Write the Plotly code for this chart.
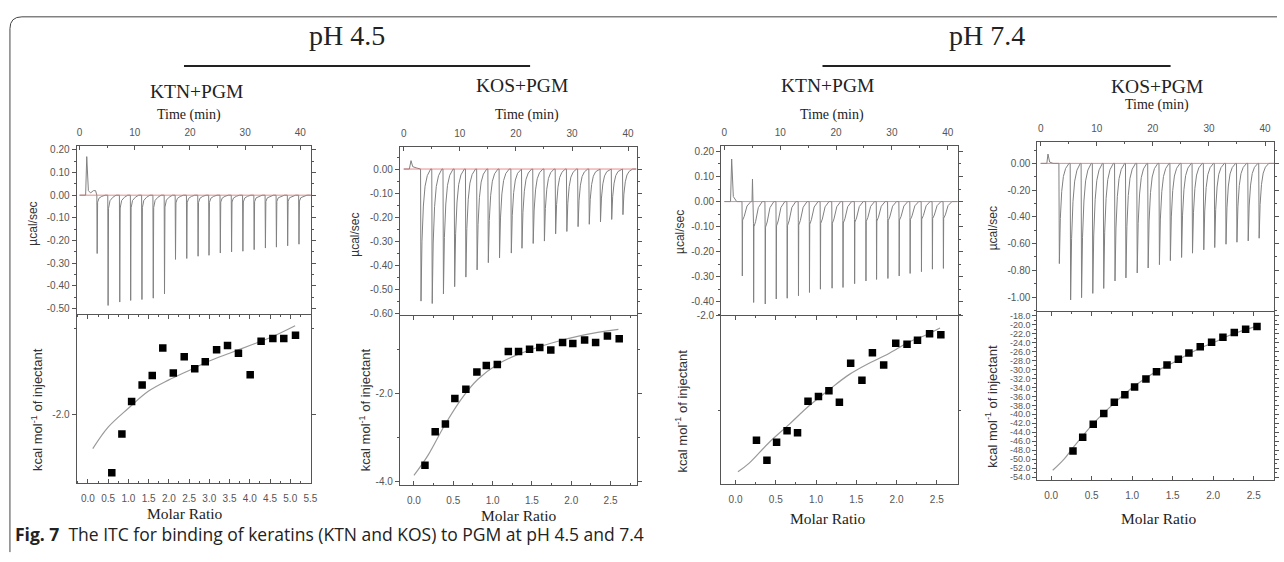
import plotly.graph_objects as go

W, H = 1284, 562

# ======================= DATA =======================
time_ticks = [0, 10, 20, 30, 40]
time_ticktext = ["0", "10", "20", "30", "40"]

# ---- Panel A : pH 4.5, KTN+PGM ----
a_inj_t = [3.13, 5.11, 7.22, 9.20, 11.24, 13.29, 15.33, 17.32, 19.36, 21.41,
           23.39, 25.44, 27.48, 29.53, 31.57, 33.61, 35.60, 37.64, 39.69]
a_inj_d = [-0.257, -0.486, -0.471, -0.464, -0.460, -0.454, -0.435, -0.283, -0.279, -0.269,
           -0.265, -0.255, -0.250, -0.247, -0.240, -0.233, -0.229, -0.223, -0.216]
a_pre_t = [0.0, 1.1, 1.3, 1.6, 2.0, 2.5, 2.9]
a_pre_v = [0.0, 0.0, 0.17, 0.02, 0.01, 0.02, 0.02]
a_end_t = 41.9
a_molar = [0.59, 0.84, 1.08, 1.34, 1.59, 1.85, 2.11, 2.38, 2.64, 2.90,
           3.18, 3.45, 3.72, 4.01, 4.28, 4.57, 4.84, 5.13]
a_heat = [-2.68, -2.23, -1.85, -1.66, -1.55, -1.23, -1.52, -1.33, -1.47, -1.39,
          -1.25, -1.20, -1.29, -1.54, -1.15, -1.12, -1.12, -1.08]
a_fit_x = [0.12, 0.5, 1.0, 1.5, 2.0, 2.5, 3.0, 3.5, 4.0, 4.5, 5.12]
a_fit_y = [-2.40, -2.15, -1.93, -1.73, -1.60, -1.49, -1.38, -1.29, -1.20, -1.11, -0.97]
a_pow_ticks = [0.2, 0.1, 0.0, -0.1, -0.2, -0.3, -0.4, -0.5]
a_pow_text = ["0.20", "0.10", "0.00", "-0.10", "-0.20", "-0.30", "-0.40", "-0.50"]
a_mr_ticks = [0.0, 0.5, 1.0, 1.5, 2.0, 2.5, 3.0, 3.5, 4.0, 4.5, 5.0, 5.5]
a_mr_text = ["0.0", "0.5", "1.0", "1.5", "2.0", "2.5", "3.0", "3.5", "4.0", "4.5", "5.0", "5.5"]
a_heat_ticks = [-2.0]
a_heat_text = ["-2.0"]

# ---- Panel B : pH 4.5, KOS+PGM ----
b_inj_t = [3.0, 5.0, 7.0, 9.0, 11.0, 13.0, 15.0, 17.0, 19.1, 21.0,
           23.0, 25.0, 27.0, 29.0, 31.0, 33.0, 35.0, 37.0, 39.0]
b_inj_d = [-0.55, -0.56, -0.52, -0.49, -0.45, -0.42, -0.39, -0.37, -0.35, -0.33,
           -0.31, -0.30, -0.27, -0.26, -0.24, -0.23, -0.22, -0.21, -0.19]
b_pre_t = [0.0, 1.0, 1.3, 1.6, 2.2, 2.9]
b_pre_v = [0.0, 0.0, 0.035, 0.01, 0.005, 0.0]
b_end_t = 41.5
b_molar = [0.14, 0.27, 0.40, 0.52, 0.66, 0.80, 0.92, 1.06, 1.20, 1.33,
           1.47, 1.60, 1.74, 1.89, 2.02, 2.17, 2.31, 2.46, 2.61]
b_heat = [-3.63, -2.87, -2.69, -2.11, -1.90, -1.51, -1.36, -1.34, -1.04, -1.04,
          -0.99, -0.95, -1.01, -0.84, -0.86, -0.78, -0.84, -0.69, -0.75]
b_fit_x = [0.0, 0.18, 0.39, 0.60, 0.81, 1.06, 1.31, 1.73, 2.15, 2.60]
b_fit_y = [-3.86, -3.40, -2.72, -2.13, -1.68, -1.34, -1.12, -0.86, -0.67, -0.54]
b_pow_ticks = [0.0, -0.1, -0.2, -0.3, -0.4, -0.5, -0.6]
b_pow_text = ["0.00", "-0.10", "-0.20", "-0.30", "-0.40", "-0.50", "-0.60"]
mr_ticks = [0.0, 0.5, 1.0, 1.5, 2.0, 2.5]
mr_text = ["0.0", "0.5", "1.0", "1.5", "2.0", "2.5"]
b_heat_ticks = [-2.0, -4.0]
b_heat_text = ["-2.0", "-4.0"]

# ---- Panel C : pH 7.4, KTN+PGM ----
c_inj_t = [3.15, 5.18, 7.26, 9.23, 11.19, 13.21, 15.18, 17.14, 19.23, 21.19,
           23.27, 25.30, 27.20, 29.23, 31.25, 33.21, 35.24, 37.20, 39.17]
c_inj_d = [-0.297, -0.403, -0.409, -0.389, -0.386, -0.376, -0.363, -0.350, -0.346, -0.343,
           -0.328, -0.317, -0.311, -0.307, -0.297, -0.287, -0.280, -0.270, -0.267]
c_pre_t = [0.0, 1.1, 1.3, 1.6, 2.2, 3.0, 4.95, 5.03, 5.12]
c_pre_v = [0.0, 0.0, 0.17, 0.02, 0.0, 0.0, 0.0, 0.09, 0.0]
c_end_t = 41.8
c_molar = [0.26, 0.39, 0.51, 0.64, 0.77, 0.90, 1.03, 1.16, 1.29, 1.43,
           1.57, 1.70, 1.84, 1.99, 2.13, 2.26, 2.41, 2.55]
c_heat = [-3.31, -3.52, -3.33, -3.21, -3.23, -2.90, -2.85, -2.79, -2.91, -2.50,
          -2.68, -2.39, -2.52, -2.29, -2.30, -2.26, -2.19, -2.20]
c_fit_x = [0.03, 0.17, 0.42, 0.67, 0.91, 1.16, 1.41, 1.66, 1.90, 2.15, 2.40, 2.54]
c_fit_y = [-3.64, -3.55, -3.33, -3.14, -2.95, -2.78, -2.62, -2.50, -2.40, -2.28, -2.19, -2.13]
c_pow_ticks = [0.2, 0.1, 0.0, -0.1, -0.2, -0.3, -0.4]
c_pow_text = ["0.20", "0.10", "0.00", "-0.10", "-0.20", "-0.30", "-0.40"]
c_heat_ticks = [-2.0]
c_heat_text = ["-2.0"]

# ---- Panel D : pH 7.4, KOS+PGM ----
d_inj_t = [3.25, 5.26, 7.21, 9.21, 11.16, 13.17, 15.12, 17.13, 19.08, 21.09,
           23.04, 25.04, 26.99, 29.00, 30.95, 32.96, 34.91, 36.92, 38.87]
d_inj_d = [-0.750, -1.022, -1.005, -0.973, -0.936, -0.880, -0.857, -0.820, -0.783, -0.758,
           -0.728, -0.704, -0.672, -0.647, -0.630, -0.605, -0.590, -0.580, -0.560]
d_pre_t = [0.0, 1.1, 1.3, 1.6, 2.2, 3.0]
d_pre_v = [0.0, 0.0, 0.07, 0.01, 0.0, 0.0]
d_end_t = 41.6
d_molar = [0.27, 0.39, 0.52, 0.65, 0.78, 0.91, 1.03, 1.17, 1.30, 1.43,
           1.57, 1.70, 1.84, 1.98, 2.12, 2.26, 2.40, 2.54]
d_heat = [-48.2, -45.1, -42.2, -39.8, -37.3, -35.6, -33.9, -32.1, -30.5, -29.0,
          -27.7, -26.3, -24.9, -23.9, -22.8, -21.7, -21.0, -20.4]
d_fit_x = [0.02, 0.16, 0.29, 0.53, 0.78, 1.02, 1.27, 1.52, 1.76, 2.01, 2.25, 2.52]
d_fit_y = [-52.5, -50.0, -47.0, -41.9, -37.5, -33.8, -30.7, -28.3, -25.9, -23.9, -22.0, -20.4]
d_pow_ticks = [0.0, -0.2, -0.4, -0.6, -0.8, -1.0]
d_pow_text = ["0.00", "-0.20", "-0.40", "-0.60", "-0.80", "-1.00"]
d_heat_ticks = [-18.0, -20.0, -22.0, -24.0, -26.0, -28.0, -30.0, -32.0, -34.0, -36.0,
                -38.0, -40.0, -42.0, -44.0, -46.0, -48.0, -50.0, -52.0, -54.0]
d_heat_text = ["-18.0", "-20.0", "-22.0", "-24.0", "-26.0", "-28.0", "-30.0", "-32.0", "-34.0",
               "-36.0", "-38.0", "-40.0", "-42.0", "-44.0", "-46.0", "-48.0", "-50.0",
               "-52.0", "-54.0"]

# ======================= STYLE / GEOMETRY =======================
SHARP = [(0.0, 0.0), (0.06, 1.0), (0.14, 0.12), (0.4, 0.05), (0.9, 0.02), (1.5, 0.0)]
KOS = [(0.0, 0.0), (0.08, 1.0), (0.25, 0.55), (0.5, 0.28), (0.8, 0.13), (1.2, 0.05), (1.8, 0.0)]
KTN74 = [(0.0, 0.0), (0.03, 0.22), (0.06, 1.0), (0.11, 0.25), (0.4, 0.2), (0.9, 0.06), (1.6, 0.0)]

SERIF = "Liberation Serif, Times New Roman, serif"
SANS = "Liberation Sans, Arial, sans-serif"
TICKFONT = dict(family=SANS, size=10, color="#555")
AXCOL = "#555"

panels = [
    dict(L=77, R=313, T=143, M=314, B=485,
         inj_t=a_inj_t, inj_d=a_inj_d, pre_t=a_pre_t, pre_v=a_pre_v, end_t=a_end_t, prof=SHARP,
         molar=a_molar, heat=a_heat, fx=a_fit_x, fy=a_fit_y,
         trange=[-0.54, 41.98], prange=[-0.526, 0.217], mrange=[-0.28, 5.52], hrange=[-2.80, -0.84],
         pt=a_pow_ticks, ptt=a_pow_text, pminor=0.05, mt=a_mr_ticks, mtt=a_mr_text, mminor=0.25,
         ht=a_heat_ticks, htt=a_heat_text, hminor=1.0),
    dict(L=402, R=640, T=144, M=315, B=487,
         inj_t=b_inj_t, inj_d=b_inj_d, pre_t=b_pre_t, pre_v=b_pre_v, end_t=b_end_t, prof=KOS,
         molar=b_molar, heat=b_heat, fx=b_fit_x, fy=b_fit_y,
         trange=[-0.7, 41.5], prange=[-0.61, 0.092], mrange=[-0.18, 2.83], hrange=[-4.08, -0.224],
         pt=b_pow_ticks, ptt=b_pow_text, pminor=0.05, mt=mr_ticks, mtt=mr_text, mminor=0.25,
         ht=b_heat_ticks, htt=b_heat_text, hminor=1.0),
    dict(L=725, R=963, T=143, M=315, B=486,
         inj_t=c_inj_t, inj_d=c_inj_d, pre_t=c_pre_t, pre_v=c_pre_v, end_t=c_end_t, prof=KTN74,
         molar=c_molar, heat=c_heat, fx=c_fit_x, fy=c_fit_y,
         trange=[-0.6, 41.8], prange=[-0.455, 0.222], mrange=[-0.18, 2.76], hrange=[-3.77, -1.999],
         pt=c_pow_ticks, ptt=c_pow_text, pminor=0.05, mt=mr_ticks, mtt=mr_text, mminor=0.25,
         ht=c_heat_ticks, htt=c_heat_text, hminor=1.0),
    dict(L=1043, R=1281, T=139, M=311, B=482,
         inj_t=d_inj_t, inj_d=d_inj_d, pre_t=d_pre_t, pre_v=d_pre_v, end_t=d_end_t, prof=KOS,
         molar=d_molar, heat=d_heat, fx=d_fit_x, fy=d_fit_y,
         trange=[-0.6, 41.6], prange=[-1.109, 0.16], mrange=[-0.17, 2.75], hrange=[-54.7, -17.04],
         pt=d_pow_ticks, ptt=d_pow_text, pminor=0.1, mt=mr_ticks, mtt=mr_text, mminor=0.25,
         ht=d_heat_ticks, htt=d_heat_text, hminor=1.0),
]


def px(x):
    return x / W


def py(y):
    return 1 - y / H


def thermogram(p):
    pts = list(zip(p["pre_t"], p["pre_v"]))
    for t, d in zip(p["inj_t"], p["inj_d"]):
        for dt, f in p["prof"]:
            pts.append((t + dt, d * f))
    pts.append((p["end_t"], 0.0))
    pts.sort(key=lambda q: q[0])
    return [q[0] for q in pts], [q[1] for q in pts]


fig = go.Figure()
layout = dict(width=W, height=H, margin=dict(l=0, r=0, t=0, b=0),
              paper_bgcolor="white", plot_bgcolor="white", showlegend=False)

for i, p in enumerate(panels):
    nt = 2 * i + 1
    nb = 2 * i + 2
    xt, yt = f"x{nt}", f"y{nt}"
    xb, yb = f"x{nb}", f"y{nb}"
    tx, ty = thermogram(p)
    fig.add_trace(go.Scatter(x=tx, y=ty, mode="lines", xaxis=xt, yaxis=yt,
                             line=dict(color="#808080", width=1), hoverinfo="skip"))
    fig.add_trace(go.Scatter(x=[p["pre_t"][0], p["end_t"]], y=[0.0, 0.0], mode="lines",
                             xaxis=xt, yaxis=yt, line=dict(color="#e07070", width=0.8),
                             hoverinfo="skip"))
    fig.add_trace(go.Scatter(x=p["fx"], y=p["fy"], mode="lines", xaxis=xb, yaxis=yb,
                             line=dict(color="#9a9a9a", width=1.2, shape="spline"),
                             hoverinfo="skip"))
    fig.add_trace(go.Scatter(x=p["molar"], y=p["heat"], mode="markers", xaxis=xb, yaxis=yb,
                             marker=dict(symbol="square", size=7.5, color="black")))

    xdom = [px(p["L"]), px(p["R"])]
    common = dict(showline=True, linecolor=AXCOL, linewidth=1, showgrid=False, zeroline=False,
                  tickfont=TICKFONT, tickcolor=AXCOL, fixedrange=True)
    layout[f"xaxis{nt}"] = dict(domain=xdom, anchor=yt, side="top", range=p["trange"],
                                tickmode="array", tickvals=time_ticks, ticktext=time_ticktext,
                                ticks="inside", ticklen=4, ticklabelstandoff=5,
                                minor=dict(ticks="inside", ticklen=2, tick0=0, dtick=5,
                                           tickcolor=AXCOL),
                                **common)
    layout[f"yaxis{nt}"] = dict(domain=[py(p["M"]), py(p["T"])], anchor=xt, range=p["prange"],
                                tickmode="array", tickvals=p["pt"], ticktext=p["ptt"],
                                ticks="outside", ticklen=4, mirror="ticks",
                                minor=dict(ticks="outside", ticklen=2, tick0=0,
                                           dtick=p["pminor"], tickcolor=AXCOL),
                                **common)
    layout[f"xaxis{nb}"] = dict(domain=xdom, anchor=yb, range=p["mrange"],
                                tickmode="array", tickvals=p["mt"], ticktext=p["mtt"],
                                ticks="inside", ticklen=4, mirror="ticks", ticklabelstandoff=6,
                                minor=dict(ticks="inside", ticklen=2, tick0=0,
                                           dtick=p["mminor"], tickcolor=AXCOL),
                                **common)
    layout[f"yaxis{nb}"] = dict(domain=[py(p["B"]), py(p["M"])], anchor=xb, range=p["hrange"],
                                tickmode="array", tickvals=p["ht"], ticktext=p["htt"],
                                ticks="outside", ticklen=4, mirror="ticks",
                                minor=dict(ticks="outside", ticklen=2, tick0=0,
                                           dtick=p["hminor"], tickcolor=AXCOL),
                                **common)

layout["yaxis8"]["tickfont"] = dict(family=SANS, size=9, color="#555")

# ---- text ----
ann = []


def text(x, y, s, size, family=SERIF, color="#222", angle=0, xanchor="center"):
    ann.append(dict(x=px(x), y=py(y), xref="paper", yref="paper", text=s, showarrow=False,
                    font=dict(family=family, size=size, color=color), textangle=angle,
                    xanchor=xanchor, yanchor="middle"))


text(349, 31, "pH 4.5", 28)
text(992, 31, "pH 7.4", 28)
for x, y, s in [(198, 88, "KTN+PGM"), (525, 82, "KOS+PGM"), (832, 82, "KTN+PGM"), (1163, 83, "KOS+PGM")]:
    text(x, y, s, 19.5)
for x, y in [(190, 112), (530, 112), (837, 112), (1163, 101)]:
    text(x, y, "Time (min)", 14)
for x, y in [(33, 222), (357, 233), (683, 230), (998, 227)]:
    text(x, y, "µcal/sec", 12, family=SANS, color="#333", angle=-90)
for x, y in [(37, 410), (367, 410), (685, 412), (997, 407)]:
    text(x, y, "kcal mol<sup>-1</sup> of injectant", 13, family=SANS, color="#333", angle=-90)
for x, y in [(186, 516), (522, 518), (833, 521), (1165, 521)]:
    text(x, y, "Molar Ratio", 15.5)
text(13, 537, "<b>Fig. 7</b>  The ITC for binding of keratins (KTN and KOS) to PGM at pH 4.5 and 7.4",
     17.5, family="Open Sans, Noto Sans, sans-serif", color="#222", xanchor="left")
layout["annotations"] = ann

# ---- header rules & frame ----
shapes = []
for x0, x1 in [(185, 533), (827, 1177)]:
    shapes.append(dict(type="line", xref="paper", yref="paper", x0=px(x0), x1=px(x1),
                       y0=py(62), y1=py(62), line=dict(color="#222", width=2)))
frame = (f"M {px(1284)} {py(12)} L {px(22)} {py(12)} Q {px(10)} {py(12)} {px(10)} {py(24)} "
         f"L {px(10)} {py(555)}")
shapes.append(dict(type="path", xref="paper", yref="paper", path=frame,
                   line=dict(color="#444", width=1)))
layout["shapes"] = shapes

fig.update_layout(**layout)
fig.write_html("out.html", config={"displayModeBar": False},
               post_script="document.body.style.margin='0';document.body.style.overflow='hidden';")
